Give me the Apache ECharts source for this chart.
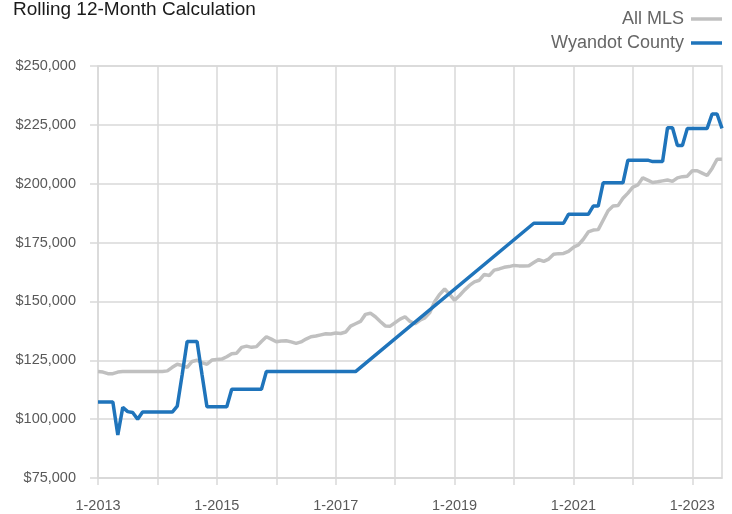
<!DOCTYPE html>
<html lang="en">
<head>
    <meta charset="UTF-8">
    <script type="text/javascript" src="https://cdn.jsdelivr.net/npm/echarts@6/dist/echarts.min.js"></script>
    <title>Rolling 12-Month Calculation</title>
</head>
<body style="margin:0">
<div id="chart" style="width: 732px;height:514px;"></div>
<script type="text/javascript">
    // months 1-2013 .. 7-2023
    var startYear = 2013;
    var monthCount = 127;
    var months = [];
    for (var i = 0; i < monthCount; i++) {
        months.push((i % 12 + 1) + '-' + (startYear + Math.floor(i / 12)));
    }

    var allMls = [
        120200, 120000, 119300, 119300, 120000, 120200, 120200, 120200, 120200, 120200, 120200, 120200,
        120200, 120200, 120500, 122000, 123300, 122800, 122000, 124500, 125000, 124000, 123300, 125100,
        125300, 125500, 126500, 127800, 128000, 130500, 131000, 130500, 130800, 133000, 135000, 134000,
        132900, 133200, 133300, 132800, 132200, 132800, 134000, 135000, 135300, 135800, 136300, 136200,
        136600, 136400, 137000, 139500, 140500, 141500, 144500, 145000, 143500, 141500, 139600, 139500,
        141000, 142500, 143500, 141500, 140500, 142000, 143000, 145300, 150000, 153000, 155300, 153000,
        150500, 152500, 154800, 156800, 158300, 159000, 161500, 161000, 163300, 163800, 164500, 164800,
        165300, 165100, 165000, 165200, 166500, 167800, 167000, 168000, 170000, 170300, 170400, 171300,
        173000, 174000, 176400, 179500, 180300, 180500, 184500, 188500, 190500, 190700, 193800, 196000,
        198500, 199500, 202500, 201500, 200500, 200800, 201200, 201600, 201000, 202500, 203000, 203200,
        205500, 205500, 204500, 203500, 206500, 210400, 210400
    ];

    // gap in the county data (2017-2020) is bridged by connectNulls
    var wyandot = [
        107300, 107300, 107300, 107300, 93300, 105000, 103200, 102800, 100000, 103000, 103000, 103000,
        103000, 103000, 103000, 103000, 105500, 119000, 133000, 133000, 133000, 119000, 105300, 105300,
        105300, 105300, 105300, 112700, 112700, 112700, 112700, 112700, 112700, 112700, 120200, 120200,
        120200, 120200, 120200, 120200, 120200, 120200, 120200, 120200, 120200, 120200, 120200, 120200,
        120200, 120200, 120200, 120200, 120200, null, null, null, null, null, null, null,
        null, null, null, null, null, null, null, null, null, null, null, null,
        null, null, null, null, null, null, null, null, null, null, null, null,
        null, null, null, null, 183200, 183200, 183200, 183200, 183200, 183200, 183200, 187000,
        187000, 187000, 187000, 187000, 190500, 190500, 200400, 200400, 200400, 200400, 200400, 210000,
        210000, 210000, 210000, 210000, 209400, 209400, 209400, 223800, 223800, 216200, 216200, 223500,
        223500, 223500, 223500, 223500, 229600, 229600, 223500
    ];

    var font = 'Liberation Sans';
    var gridColor = '#d9d9d9';

    var chart = echarts.init(document.getElementById('chart'));
    chart.setOption({
        animation: false,
        title: {
            text: 'Rolling 12-Month Calculation',
            left: 13,
            top: 0,
            padding: 0,
            textStyle: {fontFamily: font, fontSize: 19, fontWeight: 'normal', color: '#1a1a1a'}
        },
        legend: {
            orient: 'vertical',
            right: 10,
            top: 10,
            padding: 0,
            align: 'right',
            itemGap: 6,
            itemWidth: 31,
            itemHeight: 3.5,
            icon: 'rect',
            textStyle: {fontFamily: font, fontSize: 18, color: '#666666', padding: [0, 2, 0, 0]},
            data: ['All MLS', 'Wyandot County']
        },
        grid: {
            left: 98,
            right: 10,
            top: 66,
            bottom: 36,
            show: true,
            borderColor: gridColor,
            borderWidth: 1.5
        },
        xAxis: {
            type: 'category',
            data: months,
            boundaryGap: false,
            axisLine: {lineStyle: {color: gridColor, width: 1.5}},
            axisTick: {interval: 11, length: 7, lineStyle: {color: gridColor, width: 1.5}},
            axisLabel: {interval: 23, margin: 20, fontFamily: font, fontSize: 14.5, color: '#595959'},
            splitLine: {show: true, interval: 11, lineStyle: {color: gridColor, width: 1.5}}
        },
        yAxis: {
            type: 'value',
            min: 75000,
            max: 250000,
            interval: 25000,
            axisLine: {show: false},
            axisTick: {show: true, length: 8, lineStyle: {color: gridColor, width: 1.5}},
            axisLabel: {
                margin: 22,
                fontFamily: font,
                fontSize: 14.5,
                color: '#595959',
                formatter: function (v) {
                    return '$' + String(v).replace(/\B(?=(\d{3})+(?!\d))/g, ',');
                }
            },
            splitLine: {lineStyle: {color: gridColor, width: 1.5}}
        },
        series: [{
            name: 'All MLS',
            type: 'line',
            data: allMls,
            showSymbol: false,
            color: '#c0c0c0',
            lineStyle: {width: 3.5, color: '#c0c0c0'}
        }, {
            name: 'Wyandot County',
            type: 'line',
            data: wyandot,
            connectNulls: true,
            showSymbol: false,
            color: '#1f74bb',
            lineStyle: {width: 3.5, color: '#1f74bb'}
        }]
    });
</script>
</body>
</html>
